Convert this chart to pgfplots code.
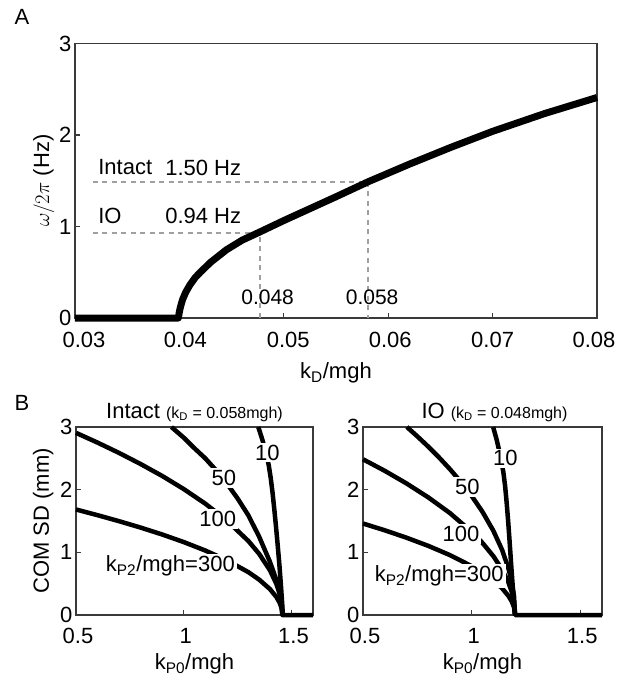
\documentclass[border=0pt]{standalone}
\usepackage{pgfplots}
\pgfplotsset{compat=1.18}
\usepackage{fontspec}
\setmainfont{Liberation Sans}
\definecolor{axgray}{HTML}{3A3A3A}
\definecolor{dashgray}{HTML}{A0A0A0}
\newcommand{\fs}[1]{\fontsize{#1}{#1}\selectfont}

\pgfplotsset{
 myax/.style={
  scale only axis, clip=false,
  scaled x ticks=false, scaled y ticks=false,
  axis line style={draw=axgray, line width=1.6pt},
  tick align=inside, tick pos=left,
  major tick length=5pt,
  every tick/.style={draw=axgray, line width=1.3pt},
  tick label style={font=\fs{22}, text=black},
  label style={font=\fs{22}},
  /pgf/number format/assume math mode=true,
 },
 crv/.style={black, line width=4.5pt, line join=round},
}
\tikzset{lbl/.style={fill=white, inner sep=2pt, font=\fs{22}}}

\begin{document}
\begin{tikzpicture}
\useasboundingbox (0pt,0pt) rectangle (617pt,-678pt);
\node[font=\fs{22}] at (22pt,-17pt) {A};
\node[font=\fs{22}] at (22pt,-403pt) {B};

% ---------------- Panel A
\begin{axis}[myax, at={(75pt,-318pt)}, anchor=south west,
  width=522pt, height=274.5pt,
  xmin=0.03, xmax=0.08, ymin=0, ymax=3,
  xtick={0.03,0.04,0.05,0.06,0.07,0.08},
  xticklabels={{\hspace*{18pt}0.03},{\hspace*{12pt}0.04},{\hspace*{9pt}0.05},{\hspace*{4pt}0.06},{0.07},{\hspace*{-6pt}0.08}},
  ytick={0,1,2,3},
  xlabel={k\textsubscript{D}/mgh},
  ylabel={$\omega/2\pi$ (Hz)},
  every x tick label/.append style={yshift=-11pt},
  xlabel style={yshift=-8pt},
  ylabel style={yshift=-2pt},
]
\addplot[dashgray, line width=2.2pt, dash pattern=on 5pt off 4.5pt] coordinates {(0.0317,1.49) (0.0581,1.49) (0.0581,0)};
\addplot[dashgray, line width=2.2pt, dash pattern=on 5pt off 4.5pt] coordinates {(0.0317,0.93) (0.0477,0.93) (0.0477,0)};
\addplot[black, line width=7pt, line join=round] table {
0.0300 0
0.0399 0
0.0400 0.07
0.0401 0.12
0.0403 0.20
0.0406 0.28
0.0410 0.36
0.0415 0.44
0.0420 0.50
0.0430 0.61
0.0445 0.745
0.0460 0.85
0.0477 0.94
0.0500 1.065
0.0525 1.195
0.0550 1.325
0.0581 1.49
0.0620 1.68
0.0660 1.865
0.0700 2.04
0.0750 2.235
0.0800 2.41
};
\node[font=\fs{22}, anchor=west] at (axis cs:0.0319,1.645) {Intact};
\node[font=\fs{22}, anchor=east] at (axis cs:0.04625,1.645) {1.50 Hz};
\node[font=\fs{22}, anchor=west] at (axis cs:0.0319,1.117) {IO};
\node[font=\fs{22}, anchor=east] at (axis cs:0.04625,1.117) {0.94 Hz};
\node[font=\fs{21}] at (axis cs:0.04845,0.224) {0.048};
\node[font=\fs{21}] at (axis cs:0.05846,0.224) {0.058};
\end{axis}

% ---------------- Panel B left (Intact)
\begin{axis}[myax, at={(76pt,-615pt)}, anchor=south west,
  width=237pt, height=188pt,
  xmin=0.5, xmax=1.6, ymin=0, ymax=3,
  xtick={0.5,1,1.5}, xticklabels={0.5,1,1.5},
  ytick={0,1,2,3},
  xlabel={k\textsubscript{P0}/mgh},
  ylabel={COM SD (mm)},
  every x tick label/.append style={yshift=-10pt, xshift=2pt},
  xlabel style={yshift=-3pt},
]
% kP2 = 300
\addplot[crv] table {
0.500 1.684
0.600 1.593
0.700 1.497
0.800 1.395
0.900 1.285
1.000 1.164
1.100 1.029
1.200 0.874
1.300 0.684
1.350 0.565
1.400 0.414
1.430 0.288
1.445 0.196
1.453 0.122
1.456 0.080
1.458 0
1.600 0
};
% kP2 = 100
\addplot[crv] table {
0.500 2.907
0.600 2.751
0.700 2.586
0.800 2.409
0.900 2.219
1.000 2.010
1.100 1.777
1.200 1.508
1.300 1.181
1.350 0.976
1.400 0.715
1.430 0.497
1.445 0.339
1.453 0.210
1.456 0.133
1.458 0
};
% kP2 = 50
\addplot[crv] table {
0.943 3.00
1.000 2.83
1.050 2.66
1.100 2.50
1.150 2.31
1.200 2.10
1.250 1.86
1.300 1.59
1.350 1.25
1.400 0.85
1.430 0.56
1.450 0.28
1.458 0.0
};
% kP2 = 10
\addplot[crv] table {
1.346 3.00
1.362 2.83
1.374 2.69
1.385 2.55
1.395 2.38
1.404 2.18
1.412 1.96
1.420 1.70
1.428 1.42
1.436 1.12
1.444 0.80
1.451 0.48
1.457 0.18
1.460 0.0
};
\node[lbl] at (axis cs:1.388,2.59) {10};
\node[lbl] at (axis cs:1.186,2.19) {50};
\node[lbl] at (axis cs:1.158,1.53) {100};
\node[lbl] at (axis cs:0.938,0.78) {k\textsubscript{P2}/mgh=300};
\node[anchor=base, font=\fs{22}] at (rel axis cs:0.5,1) [yshift=9pt] {Intact {\fs{16}(k\textsubscript{D} = 0.058mgh)}};
\end{axis}

% ---------------- Panel B right (IO)
\begin{axis}[myax, at={(363pt,-615pt)}, anchor=south west,
  width=239pt, height=188pt,
  xmin=0.5, xmax=1.6, ymin=0, ymax=3,
  xtick={0.5,1,1.5}, xticklabels={0.5,1,1.5},
  ytick={0,1,2,3},
  xlabel={k\textsubscript{P0}/mgh},
  every x tick label/.append style={yshift=-10pt, xshift=2pt},
  xlabel style={yshift=-3pt},
]
% kP2 = 300
\addplot[crv] table {
0.500 1.460
0.600 1.352
0.700 1.234
0.800 1.104
0.900 0.956
1.000 0.780
1.050 0.676
1.100 0.552
1.140 0.427
1.170 0.302
1.185 0.214
1.195 0.123
1.200 0
1.600 0
};
% kP2 = 100
\addplot[crv] table {
0.500 2.485
0.600 2.301
0.700 2.100
0.800 1.878
0.900 1.627
1.000 1.328
1.050 1.150
1.100 0.939
1.140 0.727
1.170 0.514
1.185 0.364
1.195 0.210
1.200 0
};
% kP2 = 50
\addplot[crv] table {
0.702 3.000
0.750 2.851
0.800 2.688
0.850 2.514
0.900 2.328
0.950 2.125
1.000 1.901
1.050 1.646
1.100 1.344
1.140 1.041
1.170 0.736
1.185 0.521
1.195 0.301
1.200 0
};
% kP2 = 10
\addplot[crv] table {
1.099 3.00
1.115 2.80
1.127 2.62
1.137 2.45
1.146 2.28
1.154 2.06
1.161 1.80
1.168 1.50
1.175 1.16
1.182 0.80
1.189 0.46
1.195 0.18
1.200 0.0
};
\node[lbl] at (axis cs:1.155,2.50) {10};
\node[lbl] at (axis cs:0.980,2.04) {50};
\node[lbl] at (axis cs:0.951,1.29) {100};
\node[lbl] at (axis cs:0.851,0.62) {k\textsubscript{P2}/mgh=300};
\node[anchor=base, font=\fs{22}] at (rel axis cs:0.5,1) [xshift=12pt, yshift=9pt] {IO {\fs{16}(k\textsubscript{D} = 0.048mgh)}};
\end{axis}
\end{tikzpicture}
\end{document}
